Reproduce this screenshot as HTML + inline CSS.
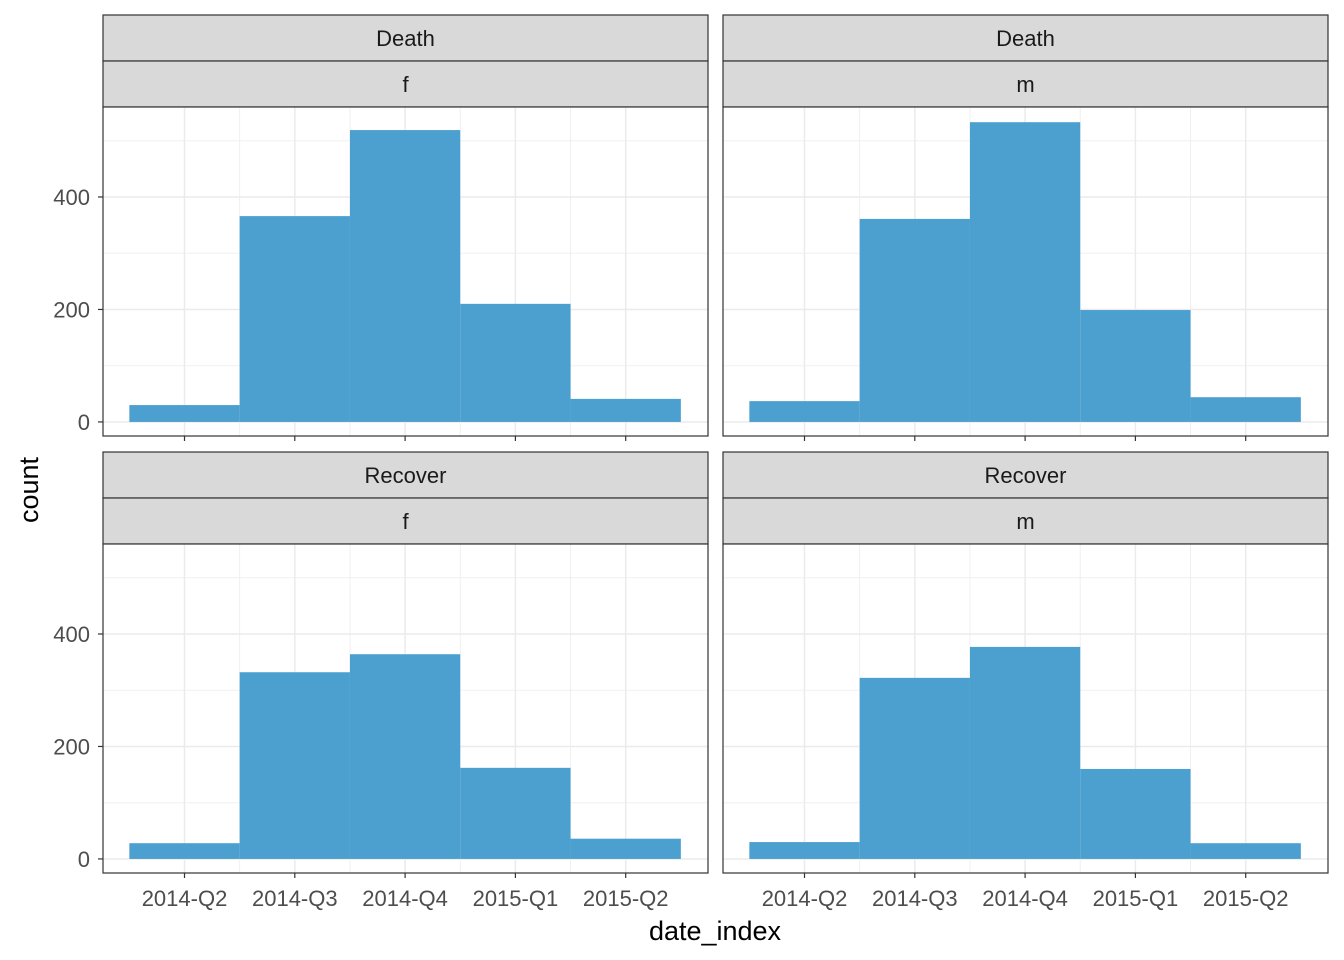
<!DOCTYPE html>
<html><head><meta charset="utf-8"><style>
body{margin:0;background:#fff;}
svg{display:block;font-family:"Liberation Sans",Arial,sans-serif;}
</style></head><body>
<svg id="chart" width="1344" height="960" xmlns="http://www.w3.org/2000/svg"></svg>
<script>
const categories = ["2014-Q2","2014-Q3","2014-Q4","2015-Q1","2015-Q2"];
const deathF = [30, 366, 519, 210, 41];
const deathM = [37, 361, 533, 199, 44];
const recoverF = [28, 332, 364, 162, 36];
const recoverM = [30, 322, 377, 160, 28];
const yTicks = [0, 200, 400];
const panels = [
  {outcome:"Death", gender:"f", values:deathF, px:103, py:15},
  {outcome:"Death", gender:"m", values:deathM, px:723, py:15},
  {outcome:"Recover", gender:"f", values:recoverF, px:103, py:452},
  {outcome:"Recover", gender:"m", values:recoverM, px:723, py:452}
];
const NS = "http://www.w3.org/2000/svg";
const svg = document.getElementById("chart");
function mk(tag, attrs, parent){
  const e = document.createElementNS(NS, tag);
  for (const k in attrs) e.setAttribute(k, attrs[k]);
  (parent||svg).appendChild(e); return e;
}
const W = 605, stripH = 46, plotH = 329;
const yMin = -25, yMax = 560;
panels.forEach((p, pi) => {
  const g = mk("g", {});
  
  
  const top = p.py + stripH*2;
  const yS = v => top + plotH - (v - yMin)/(yMax - yMin)*plotH;
  const xS = i => p.px + 81.5 + i*110.3;
  [p.outcome, p.gender].forEach((t, si) => {
    const r = mk("rect", {x:p.px, y:p.py+si*stripH, width:W, height:stripH, fill:"#d9d9d9", stroke:"#333", "stroke-width":1.2}, g);
    
    
    const tx = mk("text", {x:p.px+W/2, y:p.py+si*stripH+31, "text-anchor":"middle", "font-size":22, fill:"#1a1a1a"}, g);
    tx.textContent = t;
    
    
  });
  mk("rect", {x:p.px, y:top, width:W, height:plotH, fill:"#fff"}, g);
  [100,300,500].forEach(v => mk("line", {x1:p.px, x2:p.px+W, y1:yS(v), y2:yS(v), stroke:"#f0f0f0", "stroke-width":1}, g));
  for (let i=0;i<categories.length-1;i++) mk("line", {x1:xS(i+0.5), x2:xS(i+0.5), y1:top, y2:top+plotH, stroke:"#f0f0f0", "stroke-width":1}, g);
  yTicks.forEach(v => mk("line", {x1:p.px, x2:p.px+W, y1:yS(v), y2:yS(v), stroke:"#ebebeb", "stroke-width":1.5}, g));
  categories.forEach((c,i) => mk("line", {x1:xS(i), x2:xS(i), y1:top, y2:top+plotH, stroke:"#ebebeb", "stroke-width":1.5}, g));
  p.values.forEach((v,i) => {
    const b = mk("rect", {x:xS(i)-55.15, y:yS(v), width:110.3, height:yS(0)-yS(v), fill:"#4ca0d0"}, g);
    
    
  });
  mk("rect", {x:p.px, y:top, width:W, height:plotH, fill:"none", stroke:"#333", "stroke-width":1.2}, g);
  if (p.px < 400) {
    yTicks.forEach(v => {
      mk("line", {x1:p.px-5, x2:p.px, y1:yS(v), y2:yS(v), stroke:"#333", "stroke-width":1.2}, g);
      const t = mk("text", {x:p.px-13, y:yS(v)+8, "text-anchor":"end", "font-size":22, fill:"#4d4d4d"}, g);
      t.textContent = v;
      
      
    });
  }
  categories.forEach((c,i) => {
    mk("line", {x1:xS(i), x2:xS(i), y1:top+plotH, y2:top+plotH+5, stroke:"#333", "stroke-width":1.2}, g);
    if (p.py > 400) {
      const t = mk("text", {x:xS(i), y:top+plotH+33, "text-anchor":"middle", "font-size":22, fill:"#4d4d4d"}, g);
      t.textContent = c;
      
      
    }
  });
});
const xt = mk("text", {x:715, y:940, "text-anchor":"middle", "font-size":27, fill:"#000"});
xt.textContent = "date_index";


const yt = mk("text", {x:38, y:490, "text-anchor":"middle", "font-size":27, fill:"#000", transform:"rotate(-90 38 490)"});
yt.textContent = "count";


</script>
</body></html>
